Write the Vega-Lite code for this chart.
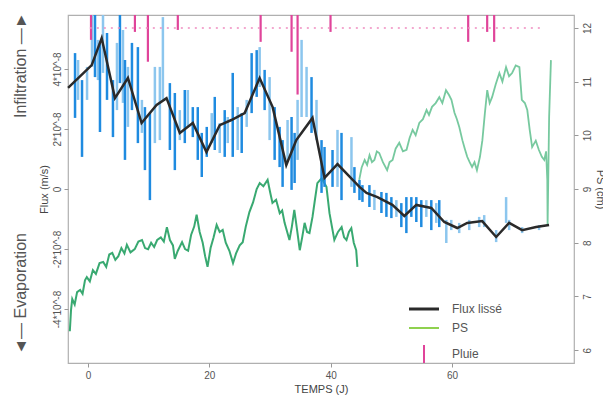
{
  "$schema": "https://vega.github.io/schema/vega-lite/v6.json",
  "width": 506,
  "height": 348,
  "autosize": {"type": "none"},
  "padding": {"left": 68, "top": 15, "right": 29, "bottom": 40},
  "background": "white",
  "config": {
    "font": "Liberation Sans",
    "view": {"stroke": "#b0b0b0", "strokeWidth": 1.2},
    "axis": {"labelFont": "Liberation Sans", "titleFont": "Liberation Sans", "labelColor": "#555", "titleColor": "#444", "tickColor": "#999", "domain": false, "grid": false, "labelFontSize": 10, "titleFontSize": 11, "titleFontWeight": "normal"}
  },
  "datasets": {
    "lisse": [
      {"t": -3.29, "flux": 3.37}, {"t": 0.61, "flux": 4.13}, {"t": 2.25, "flux": 5.03}, {"t": 4.44, "flux": 3.03},
      {"t": 6.58, "flux": 3.7}, {"t": 8.83, "flux": 2.2}, {"t": 11.3, "flux": 2.8}, {"t": 12.94, "flux": 3.03},
      {"t": 15.13, "flux": 1.87}, {"t": 17.27, "flux": 2.2}, {"t": 19.52, "flux": 1.23}, {"t": 21.71, "flux": 2.13},
      {"t": 23.63, "flux": 2.3}, {"t": 25.82, "flux": 2.53}, {"t": 28.29, "flux": 3.7}, {"t": 30.43, "flux": 2.73},
      {"t": 32.68, "flux": 0.8}, {"t": 34.33, "flux": 1.63}, {"t": 37.0, "flux": 2.37}, {"t": 38.98, "flux": 0.37},
      {"t": 41.12, "flux": 0.83}, {"t": 44.74, "flux": 0.07}, {"t": 45.9, "flux": -0.13}, {"t": 47.7, "flux": -0.27},
      {"t": 50.16, "flux": -0.53}, {"t": 52.14, "flux": -0.9}, {"t": 54.11, "flux": -0.53}, {"t": 56.58, "flux": -0.63},
      {"t": 58.72, "flux": -1.1}, {"t": 60.86, "flux": -1.3}, {"t": 62.5, "flux": -1.13}, {"t": 64.97, "flux": -1.07},
      {"t": 67.27, "flux": -1.6}, {"t": 69.41, "flux": -1.13}, {"t": 71.55, "flux": -1.37}, {"t": 73.85, "flux": -1.27},
      {"t": 75.99, "flux": -1.2}
    ],
    "flux_dark": [
      {"t": -2.14, "lo": 2.37, "hi": 4.53}, {"t": -0.99, "lo": 1.07, "hi": 3.63}, {"t": 1.15, "lo": 3.73, "hi": 5.8},
      {"t": 1.97, "lo": 1.9, "hi": 4.87}, {"t": 3.13, "lo": 2.97, "hi": 5.2}, {"t": 4.11, "lo": 1.73, "hi": 3.63},
      {"t": 5.26, "lo": 3.53, "hi": 5.8}, {"t": 6.09, "lo": 0.97, "hi": 4.3}, {"t": 7.24, "lo": 2.63, "hi": 4.87},
      {"t": 8.22, "lo": 1.53, "hi": 4.73}, {"t": 9.38, "lo": 0.63, "hi": 2.73}, {"t": 10.2, "lo": -0.37, "hi": 2.53},
      {"t": 13.49, "lo": 1.3, "hi": 3.53}, {"t": 14.31, "lo": 0.63, "hi": 3.2}, {"t": 15.95, "lo": 1.53, "hi": 3.3},
      {"t": 17.27, "lo": 1.73, "hi": 2.73}, {"t": 18.09, "lo": 0.97, "hi": 2.73}, {"t": 18.75, "lo": 0.4, "hi": 1.87},
      {"t": 19.57, "lo": 1.07, "hi": 2.07}, {"t": 20.89, "lo": 1.3, "hi": 3.07}, {"t": 22.53, "lo": 1.07, "hi": 2.63},
      {"t": 23.85, "lo": 1.07, "hi": 3.87}, {"t": 25.33, "lo": 1.2, "hi": 2.53}, {"t": 26.97, "lo": 2.53, "hi": 4.53},
      {"t": 27.8, "lo": 3.07, "hi": 4.63}, {"t": 29.11, "lo": 2.63, "hi": 3.97}, {"t": 30.76, "lo": 0.97, "hi": 2.73},
      {"t": 31.58, "lo": 0.73, "hi": 2.07}, {"t": 32.07, "lo": 0.07, "hi": 1.63}, {"t": 33.55, "lo": -0.03, "hi": 2.4},
      {"t": 34.05, "lo": 0.2, "hi": 1.87}, {"t": 36.84, "lo": 1.87, "hi": 3.73}, {"t": 38.49, "lo": -0.13, "hi": 1.63},
      {"t": 38.98, "lo": 0.07, "hi": 1.4}, {"t": 40.3, "lo": 0.07, "hi": 1.3}, {"t": 41.78, "lo": -0.37, "hi": 1.87},
      {"t": 43.91, "lo": -0.13, "hi": 0.73}, {"t": 44.74, "lo": -0.37, "hi": 0.3}, {"t": 45.23, "lo": -0.43, "hi": 0.13},
      {"t": 46.38, "lo": -0.6, "hi": 0.13}, {"t": 48.36, "lo": -0.8, "hi": -0.1}, {"t": 49.18, "lo": -0.93, "hi": -0.13},
      {"t": 50.0, "lo": -0.97, "hi": -0.27}, {"t": 51.64, "lo": -1.27, "hi": -0.47}, {"t": 52.47, "lo": -1.47, "hi": -0.27},
      {"t": 53.29, "lo": -0.93, "hi": -0.27}, {"t": 54.11, "lo": -1.1, "hi": -0.27}, {"t": 54.93, "lo": -1.27, "hi": -0.37},
      {"t": 56.58, "lo": -1.37, "hi": -0.37}, {"t": 57.89, "lo": -1.27, "hi": -0.37}
    ],
    "flux_light": [
      {"t": -1.64, "lo": 2.97, "hi": 4.3}, {"t": -0.16, "lo": 2.97, "hi": 4.07}, {"t": 0.66, "lo": 4.07, "hi": 5.8},
      {"t": 1.64, "lo": 3.63, "hi": 4.97}, {"t": 2.47, "lo": 3.87, "hi": 5.8}, {"t": 4.77, "lo": 2.63, "hi": 4.87},
      {"t": 5.76, "lo": 2.87, "hi": 5.3}, {"t": 6.58, "lo": 2.07, "hi": 4.07}, {"t": 8.88, "lo": 1.87, "hi": 2.97},
      {"t": 11.02, "lo": 1.53, "hi": 4.07}, {"t": 11.84, "lo": 1.63, "hi": 4.07}, {"t": 12.34, "lo": 2.97, "hi": 5.73},
      {"t": 15.13, "lo": 1.63, "hi": 2.63}, {"t": 16.45, "lo": 2.07, "hi": 3.3}, {"t": 20.39, "lo": 1.53, "hi": 2.53},
      {"t": 21.71, "lo": 1.2, "hi": 2.2}, {"t": 23.03, "lo": 1.53, "hi": 2.4}, {"t": 24.67, "lo": 1.3, "hi": 2.73},
      {"t": 26.15, "lo": 2.07, "hi": 2.97}, {"t": 28.29, "lo": 3.4, "hi": 4.73}, {"t": 29.93, "lo": 1.63, "hi": 3.73},
      {"t": 32.89, "lo": 0.97, "hi": 2.3}, {"t": 34.54, "lo": 0.97, "hi": 2.97}, {"t": 35.2, "lo": 2.4, "hi": 4.97},
      {"t": 36.02, "lo": 2.4, "hi": 4.07}, {"t": 37.66, "lo": 1.63, "hi": 2.97}, {"t": 41.12, "lo": 0.07, "hi": 1.97},
      {"t": 43.42, "lo": 0.07, "hi": 1.73}, {"t": 47.2, "lo": -0.7, "hi": -0.03}, {"t": 50.82, "lo": -0.93, "hi": -0.37},
      {"t": 55.76, "lo": -0.93, "hi": -0.37}, {"t": 57.4, "lo": -1.13, "hi": -0.47}, {"t": 59.05, "lo": -1.8, "hi": -1.03},
      {"t": 59.87, "lo": -1.37, "hi": -1.03}, {"t": 61.18, "lo": -1.47, "hi": -1.13}, {"t": 62.83, "lo": -1.37, "hi": -1.03},
      {"t": 64.47, "lo": -1.27, "hi": -0.93}, {"t": 65.3, "lo": -1.27, "hi": -0.87}, {"t": 67.27, "lo": -1.77, "hi": -1.37},
      {"t": 68.91, "lo": -1.13, "hi": -0.27}, {"t": 69.41, "lo": -1.37, "hi": -1.03}, {"t": 71.55, "lo": -1.47, "hi": -1.27},
      {"t": 74.34, "lo": -1.37, "hi": -1.2}
    ],
    "ps_a": [
      {"t": -3.0, "ps": 6.35}, {"t": -2.8, "ps": 6.75}, {"t": -2.6, "ps": 6.95}, {"t": -2.2, "ps": 6.85}, {"t": -1.8, "ps": 7.08},
      {"t": -1.3, "ps": 7.12}, {"t": -0.9, "ps": 7.05}, {"t": -0.5, "ps": 7.3}, {"t": -0.2, "ps": 7.36}, {"t": 0.3, "ps": 7.28},
      {"t": 0.8, "ps": 7.49}, {"t": 1.3, "ps": 7.42}, {"t": 1.9, "ps": 7.62}, {"t": 2.5, "ps": 7.64}, {"t": 3.0, "ps": 7.55},
      {"t": 3.5, "ps": 7.78}, {"t": 4.0, "ps": 7.81}, {"t": 4.5, "ps": 7.68}, {"t": 5.0, "ps": 7.75}, {"t": 5.5, "ps": 7.9},
      {"t": 6.0, "ps": 7.8}, {"t": 6.4, "ps": 7.96}, {"t": 7.0, "ps": 7.82}, {"t": 7.7, "ps": 7.88}, {"t": 8.3, "ps": 8.02},
      {"t": 8.9, "ps": 8.05}, {"t": 9.4, "ps": 7.9}, {"t": 9.9, "ps": 7.88}, {"t": 10.4, "ps": 8.0}, {"t": 10.9, "ps": 7.92},
      {"t": 11.4, "ps": 8.05}, {"t": 12.0, "ps": 8.1}, {"t": 12.5, "ps": 8.02}, {"t": 13.0, "ps": 8.29}, {"t": 13.5, "ps": 8.05},
      {"t": 14.0, "ps": 7.95}, {"t": 14.3, "ps": 7.7}, {"t": 14.8, "ps": 7.85}, {"t": 15.5, "ps": 8.01}, {"t": 16.0, "ps": 7.88},
      {"t": 16.5, "ps": 7.85}, {"t": 17.0, "ps": 8.15}, {"t": 17.5, "ps": 8.3}, {"t": 17.9, "ps": 8.52}, {"t": 18.4, "ps": 8.2},
      {"t": 18.9, "ps": 8.0}, {"t": 19.3, "ps": 7.75}, {"t": 19.7, "ps": 7.55}, {"t": 20.2, "ps": 7.9}, {"t": 20.7, "ps": 8.1},
      {"t": 21.2, "ps": 8.33}, {"t": 21.7, "ps": 8.2}, {"t": 22.2, "ps": 8.24}, {"t": 22.7, "ps": 8.0}, {"t": 23.3, "ps": 7.85},
      {"t": 23.9, "ps": 7.62}, {"t": 24.4, "ps": 7.8}, {"t": 25.0, "ps": 7.95}, {"t": 25.5, "ps": 8.01}, {"t": 26.0, "ps": 8.3},
      {"t": 26.6, "ps": 8.57}, {"t": 27.2, "ps": 8.75}, {"t": 27.8, "ps": 9.0}, {"t": 28.3, "ps": 9.11}, {"t": 28.9, "ps": 9.05},
      {"t": 29.6, "ps": 9.17}, {"t": 30.0, "ps": 8.95}, {"t": 30.4, "ps": 8.74}, {"t": 31.0, "ps": 8.8}, {"t": 31.6, "ps": 8.55},
      {"t": 32.0, "ps": 8.6}, {"t": 32.4, "ps": 8.37}, {"t": 33.2, "ps": 8.05}, {"t": 33.6, "ps": 8.3}, {"t": 34.0, "ps": 8.61},
      {"t": 34.5, "ps": 8.2}, {"t": 34.9, "ps": 7.86}, {"t": 35.3, "ps": 8.1}, {"t": 35.7, "ps": 8.37}, {"t": 36.1, "ps": 8.2},
      {"t": 36.5, "ps": 8.18}, {"t": 37.0, "ps": 8.48}, {"t": 37.4, "ps": 8.8}, {"t": 37.8, "ps": 9.11}, {"t": 38.5, "ps": 9.2},
      {"t": 39.3, "ps": 9.04}, {"t": 39.8, "ps": 8.55}, {"t": 40.2, "ps": 8.3}, {"t": 40.6, "ps": 8.05}, {"t": 41.2, "ps": 8.2},
      {"t": 41.8, "ps": 8.29}, {"t": 42.2, "ps": 8.1}, {"t": 42.6, "ps": 8.05}, {"t": 43.0, "ps": 8.2}, {"t": 43.4, "ps": 8.27},
      {"t": 43.8, "ps": 8.0}, {"t": 44.2, "ps": 7.86}, {"t": 44.4, "ps": 7.55}
    ],
    "ps_b": [
      {"t": 44.7, "ps": 9.17}, {"t": 45.1, "ps": 9.4}, {"t": 45.6, "ps": 9.54}, {"t": 46.0, "ps": 9.45}, {"t": 46.4, "ps": 9.63},
      {"t": 46.8, "ps": 9.5}, {"t": 47.2, "ps": 9.54}, {"t": 47.6, "ps": 9.7}, {"t": 48.0, "ps": 9.67}, {"t": 48.6, "ps": 9.5},
      {"t": 49.3, "ps": 9.35}, {"t": 49.7, "ps": 9.5}, {"t": 50.2, "ps": 9.54}, {"t": 50.7, "ps": 9.75}, {"t": 51.3, "ps": 9.86},
      {"t": 51.9, "ps": 9.7}, {"t": 52.5, "ps": 9.73}, {"t": 53.0, "ps": 9.95}, {"t": 53.5, "ps": 10.1}, {"t": 54.0, "ps": 10.0},
      {"t": 54.6, "ps": 10.23}, {"t": 55.2, "ps": 10.3}, {"t": 55.8, "ps": 10.47}, {"t": 56.2, "ps": 10.38}, {"t": 56.7, "ps": 10.53},
      {"t": 57.3, "ps": 10.6}, {"t": 57.9, "ps": 10.71}, {"t": 58.4, "ps": 10.6}, {"t": 59.0, "ps": 10.84}, {"t": 59.5, "ps": 10.75},
      {"t": 59.9, "ps": 10.66}, {"t": 60.4, "ps": 10.42}, {"t": 60.8, "ps": 10.3}, {"t": 61.2, "ps": 10.15}, {"t": 61.7, "ps": 9.91},
      {"t": 62.1, "ps": 9.75}, {"t": 62.5, "ps": 9.6}, {"t": 62.9, "ps": 9.5}, {"t": 63.3, "ps": 9.41}, {"t": 63.7, "ps": 9.5},
      {"t": 64.1, "ps": 9.35}, {"t": 64.6, "ps": 9.6}, {"t": 65.0, "ps": 9.91}, {"t": 65.4, "ps": 10.4}, {"t": 65.8, "ps": 10.84},
      {"t": 66.2, "ps": 10.6}, {"t": 66.6, "ps": 10.71}, {"t": 67.2, "ps": 10.95}, {"t": 67.8, "ps": 11.16}, {"t": 68.3, "ps": 11.0},
      {"t": 68.9, "ps": 11.27}, {"t": 69.4, "ps": 11.1}, {"t": 69.9, "ps": 11.16}, {"t": 70.5, "ps": 11.3}, {"t": 71.1, "ps": 11.27},
      {"t": 71.5, "ps": 10.66}, {"t": 72.0, "ps": 10.6}, {"t": 72.4, "ps": 10.47}, {"t": 72.8, "ps": 10.1}, {"t": 73.2, "ps": 9.78},
      {"t": 73.8, "ps": 9.9}, {"t": 74.3, "ps": 9.73}, {"t": 74.8, "ps": 9.6}, {"t": 75.2, "ps": 9.54}, {"t": 75.5, "ps": 9.7},
      {"t": 75.7, "ps": 9.17}, {"t": 75.75, "ps": 8.33}, {"t": 76.0, "ps": 10.34}, {"t": 76.3, "ps": 11.4}
    ],
    "pluie": [
      {"t": 0.49, "mm": 2.5}, {"t": 7.73, "mm": 1.7}, {"t": 9.87, "mm": 4.7}, {"t": 14.8, "mm": 1.5},
      {"t": 28.45, "mm": 2.7}, {"t": 33.55, "mm": 3.7}, {"t": 34.54, "mm": 8.0}, {"t": 39.97, "mm": 1.7},
      {"t": 62.66, "mm": 2.7}, {"t": 65.79, "mm": 1.7}, {"t": 66.94, "mm": 2.7}
    ],
    "pluie_faible": [
      {"debut": 0.3, "fin": 75.3, "mm": 1.3}
    ]
  },
  "resolve": {"scale": {"y": "independent"}, "axis": {"y": "independent"}},
  "layer": [
    {
      "layer": [
        {
          "data": {"name": "ps_a"},
          "mark": {"type": "line", "color": "#24a062", "strokeWidth": 2, "opacity": 0.9},
          "encoding": {
            "x": {"field": "t", "type": "quantitative", "scale": {"domain": [-3.3, 80.1], "nice": false, "zero": false},
              "axis": {"values": [0, 20, 40, 60], "title": "TEMPS (J)", "tickSize": 4, "labelPadding": 3, "titlePadding": 3}},
            "y": {"field": "ps", "type": "quantitative", "scale": {"domain": [5.76, 12.24], "nice": false, "zero": false},
              "axis": {"orient": "right", "values": [6, 7, 8, 9, 10, 11, 12], "labelAngle": -90, "tickSize": 4, "labelPadding": 4, "title": "PS (cm)", "titlePadding": 2}}
          }
        },
        {
          "data": {"name": "ps_b"},
          "mark": {"type": "line", "color": "#5fc08e", "strokeWidth": 1.8, "opacity": 0.85},
          "encoding": {
            "x": {"field": "t", "type": "quantitative"},
            "y": {"field": "ps", "type": "quantitative"}
          }
        }
      ]
    },
    {
      "layer": [
        {
          "mark": {"type": "rule", "color": "#a8a8a8", "strokeWidth": 1},
          "encoding": {
            "y": {"datum": 0, "type": "quantitative", "scale": {"domain": [-5.8, 5.8], "nice": false, "zero": false},
              "axis": {"orient": "left", "values": [-4, -2, 0, 2, 4], "labelExpr": "datum.value == 0 ? '0' : datum.value + '*10^-8'", "labelAngle": -90, "tickSize": 4, "labelPadding": 2, "title": "Flux (m/s)", "titlePadding": 3}}
          }
        },
        {
          "data": {"name": "flux_light"},
          "mark": {"type": "rule", "color": "#8cc6ee", "strokeWidth": 2.5},
          "encoding": {
            "x": {"field": "t", "type": "quantitative"},
            "y": {"field": "lo", "type": "quantitative"},
            "y2": {"field": "hi"}
          }
        },
        {
          "data": {"name": "flux_dark"},
          "mark": {"type": "rule", "color": "#1f8be0", "strokeWidth": 2.5},
          "encoding": {
            "x": {"field": "t", "type": "quantitative"},
            "y": {"field": "lo", "type": "quantitative"},
            "y2": {"field": "hi"}
          }
        },
        {
          "data": {"name": "lisse"},
          "mark": {"type": "line", "strokeWidth": 2.5},
          "encoding": {
            "x": {"field": "t", "type": "quantitative"},
            "y": {"field": "flux", "type": "quantitative"},
            "color": {"datum": "Flux lissé", "type": "nominal",
              "scale": {"domain": ["Flux lissé", "PS", "Pluie"], "range": ["#2a2a2a", "#8fd14f", "#e0449a"]},
              "legend": {"title": null, "orient": "none", "legendX": 350, "legendY": 288, "labelFontSize": 12, "labelColor": "#555", "symbolSize": 900, "rowPadding": 7, "labelOffset": 22,
                "encode": {"symbols": {"update": {"shape": {"signal": "datum.label === 'Pluie' ? 'M0,-0.6V0.6' : 'M-1,0H1'"}, "strokeWidth": {"signal": "datum.label === 'Flux lissé' ? 3 : 2"}}}}}}
          }
        }
      ]
    },
    {
      "layer": [
        {
          "data": {"name": "pluie"},
          "mark": {"type": "rule", "color": "#e0449a", "strokeWidth": 2.2},
          "encoding": {
            "x": {"field": "t", "type": "quantitative"},
            "y": {"field": "mm", "type": "quantitative", "scale": {"domain": [0, 35], "reverse": true, "nice": false, "zero": false},
              "axis": {"orient": "left", "offset": 36, "values": [5.0, 28.0], "labelExpr": "datum.value < 15 ? 'Infiltration  \u2014\u25ba' : '\u25c4\u2014  Evaporation'", "labelAngle": -90, "ticks": false, "labelFontSize": 16, "labelColor": "#555", "labelPadding": 4, "title": null}},
            "y2": {"datum": 0}
          }
        },
        {
          "data": {"name": "pluie_faible"},
          "mark": {"type": "rule", "color": "#f08cc0", "strokeWidth": 1.5, "strokeDash": [2, 5]},
          "encoding": {
            "x": {"field": "debut", "type": "quantitative"},
            "x2": {"field": "fin"},
            "y": {"field": "mm", "type": "quantitative"}
          }
        }
      ]
    }
  ]
}
